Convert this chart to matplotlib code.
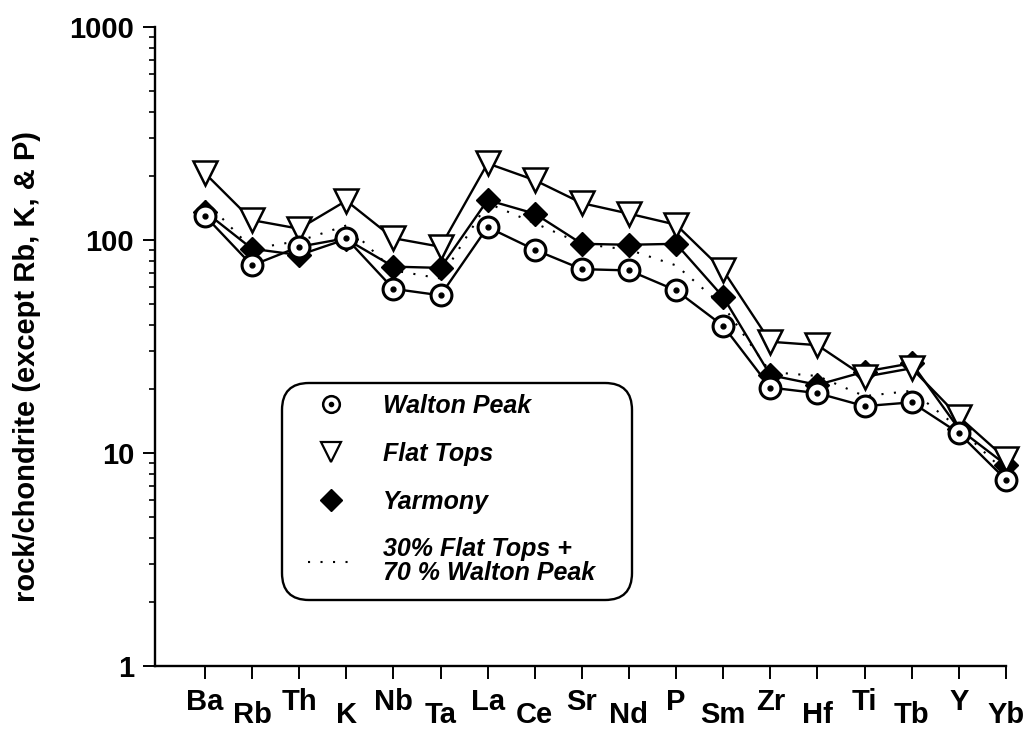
import matplotlib
matplotlib.use("Agg")
import matplotlib.pyplot as plt
from matplotlib.lines import Line2D
from matplotlib.patches import FancyBboxPatch
from matplotlib.ticker import LogLocator, NullFormatter, FixedLocator, FixedFormatter

# chondrite-normalised trace element values
elements = ["Ba", "Rb", "Th", "K", "Nb", "Ta", "La", "Ce", "Sr", "Nd", "P",
            "Sm", "Zr", "Hf", "Ti", "Tb", "Y", "Yb"]
walton_peak = [130, 76, 93, 102, 59, 55, 115, 90, 73, 72, 58, 39.5, 20.3,
               19.1, 16.6, 17.3, 12.4, 7.5]
flat_tops = [206, 124, 113, 153, 102, 93, 229, 191, 149, 133, 118, 72, 33.3,
             32.1, 22.8, 25.0, 14.8, 9.4]
yarmony = [136, 91, 85, 101, 75, 74, 154, 133, 96, 95, 96, 54, 23.2, 20.9,
           24.1, 26.4, 13.0, 8.8]
mix_30_70 = [153, 91, 99, 117, 72, 66, 149, 120, 96, 90, 76, 49, 24.0, 23.0,
             18.5, 19.6, 13.1, 8.1]

plt.rcParams["font.family"] = ["Liberation Sans", "DejaVu Sans"]

fig = plt.figure(figsize=(10.31, 7.29), dpi=100)
ax = fig.add_axes([0.1503, 0.0864, 0.8254, 0.8765])

x = list(range(len(elements)))
lw = 1.7

ax.plot(x, mix_30_70, color="black", lw=1.5, ls=(0, (1, 5)), zorder=2,
        clip_on=False)
ax.plot(x, yarmony, color="black", lw=lw, marker="D", ms=12, mfc="black",
        mec="black", zorder=3, clip_on=False)
ax.plot(x, flat_tops, color="black", lw=lw, marker="v", ms=17, mfc="white",
        mec="black", mew=1.8, zorder=4, clip_on=False)
ax.plot(x, walton_peak, color="black", lw=lw, marker="o", ms=15, mfc="white",
        mec="black", mew=2.2, zorder=5, clip_on=False)
ax.plot(x, walton_peak, ls="none", marker="o", ms=3.5, color="black",
        zorder=6, clip_on=False)

ax.set_yscale("log")
ax.set_ylim(1, 1000)
ax.set_xlim(-1.06, 17)

ax.yaxis.set_major_locator(FixedLocator([1, 10, 100, 1000]))
ax.yaxis.set_major_formatter(FixedFormatter(["1", "10", "100", "1000"]))
ax.yaxis.set_minor_locator(LogLocator(base=10, subs=range(2, 10)))
ax.yaxis.set_minor_formatter(NullFormatter())

ax.set_xticks(x)
ax.set_xticklabels(elements)

for side in ("top", "right"):
    ax.spines[side].set_visible(False)
for side in ("left", "bottom"):
    ax.spines[side].set_linewidth(1.7)

ax.tick_params(axis="y", which="major", direction="out", length=9, width=1.4,
               labelsize=21, pad=6)
ax.tick_params(axis="y", which="minor", direction="out", length=4, width=1.2)
ax.tick_params(axis="x", direction="out", length=9, width=1.4)
for lbl in ax.get_yticklabels():
    lbl.set_fontweight("bold")
for lbl in ax.get_xticklabels():
    lbl.set_fontweight("bold")
    lbl.set_fontsize(21)

# staggered element labels
for i, tick in enumerate(ax.xaxis.get_major_ticks()):
    tick.set_pad(7 if i % 2 == 0 else 16)

fig.text(27 / 1031, 1 - 366 / 729, "rock/chondrite (except Rb, K, & P)",
         rotation=90, ha="center", va="center", fontsize=21,
         fontweight="bold")

# rounded legend frame
box = FancyBboxPatch((2.82, 1.29), 3.50, 2.17,
                     boxstyle="round,pad=0,rounding_size=0.27",
                     transform=fig.dpi_scale_trans, fc="white", ec="black",
                     lw=1.7, zorder=1)
fig.patches.append(box)

h_wp = (Line2D([], [], ls="none", marker="o", ms=12, mfc="white", mec="black",
               mew=1.8),
        Line2D([], [], ls="none", marker="o", ms=3, color="black"))
h_ft = Line2D([], [], ls="none", marker="v", ms=14, mfc="white", mec="black",
              mew=1.6)
h_ya = Line2D([], [], ls="none", marker="D", ms=11, color="black")
h_mix = Line2D([], [], color="black", lw=1.5, ls=(0, (1, 5)))

leg = fig.legend([h_wp, h_ft, h_ya, h_mix],
                 ["Walton Peak", "Flat Tops", "Yarmony",
                  "30% Flat Tops +\n70 % Walton Peak"],
                 loc="upper left", bbox_to_anchor=(308 / 1031, 1 - 394 / 729),
                 frameon=False, borderpad=0, borderaxespad=0,
                 handlelength=1.8, handletextpad=1.2, labelspacing=0.95,
                 prop={"size": 18, "weight": "bold", "style": "italic"})
for t in leg.get_texts():
    t.set_linespacing(1.0)

fig.savefig("out.png", dpi=100)
